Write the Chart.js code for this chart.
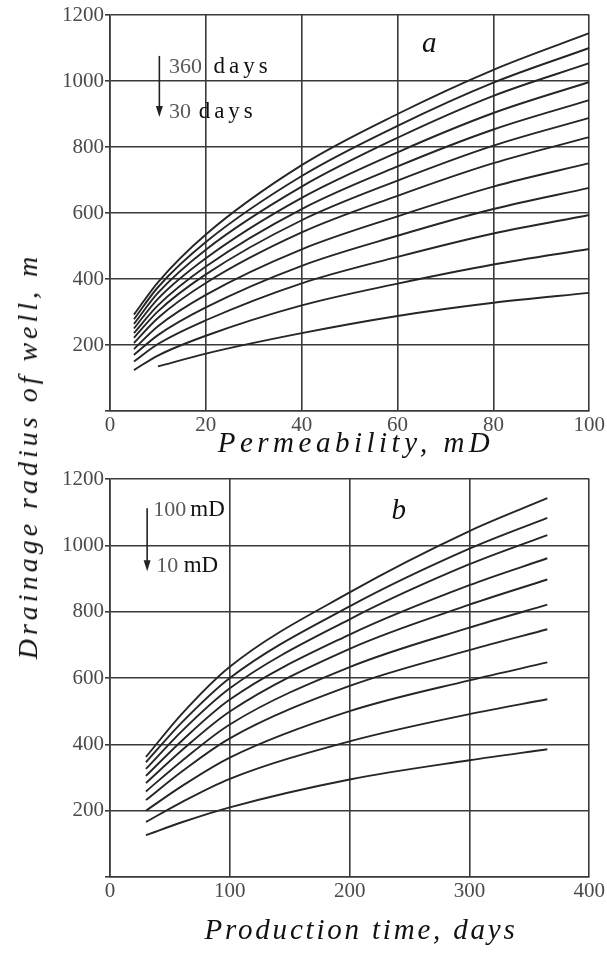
<!DOCTYPE html>
<html>
<head>
<meta charset="utf-8">
<script src="https://cdn.jsdelivr.net/npm/chart.js@4.4.1/dist/chart.umd.min.js"></script>
<style>
  html, body { margin: 0; padding: 0; background: #fff; }
  #wrap { position: relative; width: 607px; height: 953px; overflow: hidden; }
  #chartA { position: absolute; left: 0; top: 0; }
  #chartB { position: absolute; left: 0; top: 460px; }
  #ytitle {
    position: absolute; left: 28px; top: 456px;
    transform: translate(-50%, -50%) rotate(-90deg);
    font: italic 28px "Liberation Serif", serif; letter-spacing: 4px;
    white-space: nowrap; color: #111;
  }
</style>
</head>
<body>
<div id="wrap">
  <canvas id="chartA" width="607" height="460"></canvas>
  <canvas id="chartB" width="607" height="493"></canvas>
  <div id="ytitle">Drainage radius of well, m</div>
</div>
<script>
// Panel a: drainage radius (m) vs permeability (mD), one curve per production time
const permA = [5, 10, 20, 40, 60, 80, 100];
const rad360d = [292, 390, 535, 745, 900, 1034, 1145];
const rad330d = [278, 375, 512, 712, 864, 995, 1100];
const rad300d = [264, 358, 489, 680, 828, 955, 1054];
const rad270d = [250, 340, 463, 646, 784, 903, 997];
const rad240d = [236, 320, 438, 612, 741, 853, 942];
const rad210d = [222, 302, 414, 578, 698, 804, 888];
const rad180d = [206, 282, 388, 541, 652, 751, 830];
const rad150d = [188, 257, 352, 490, 590, 680, 751];
const rad120d = [170, 230, 314, 440, 531, 612, 676];
const rad90d  = [150, 203, 275, 387, 467, 538, 594];
const rad60d  = [124, 168, 228, 320, 386, 444, 491];
const rad30d  = [null, 135, 174, 236, 288, 328, 358];
const curvesA = [rad360d, rad330d, rad300d, rad270d, rad240d, rad210d,
                 rad180d, rad150d, rad120d, rad90d, rad60d, rad30d];

// Panel b: drainage radius (m) vs production time (days), one curve per permeability
const daysB = [30, 60, 100, 200, 300, 365];
const rad100mD = [362, 492, 634, 858, 1043, 1142];
const rad90mD  = [346, 466, 600, 816, 990, 1083];
const rad80mD  = [326, 440, 569, 777, 943, 1031];
const rad70mD  = [305, 411, 535, 731, 880, 961];
const rad60mD  = [283, 382, 499, 688, 821, 897];
const rad50mD  = [258, 350, 460, 633, 752, 821];
const rad40mD  = [232, 318, 418, 576, 684, 747];
const rad30mD  = [200, 274, 360, 500, 593, 647];
const rad20mD  = [166, 226, 296, 409, 491, 536];
const rad10mD  = [126, 165, 210, 294, 352, 385];
const curvesB = [rad100mD, rad90mD, rad80mD, rad70mD, rad60mD,
                 rad50mD, rad40mD, rad30mD, rad20mD, rad10mD];

const yTicks = [0, 200, 400, 600, 800, 1000, 1200];

const LINE = '#262626';
const GRID = '#3a3a3a';
const TICK_FONT = { family: 'Liberation Serif', size: 21 };

function toDatasets(xs, curves) {
  return curves.map(vals => ({
    data: xs.map((x, i) => ({ x: x, y: vals[i] })),
    borderColor: LINE,
    borderWidth: 1.9,
    pointRadius: 0,
    cubicInterpolationMode: 'monotone',
    spanGaps: false,
    fill: false
  }));
}

// annotations: arrow + labels, positioned in data coordinates
const annotate = {
  id: 'annotate',
  afterDraw(chart, args, opts) {
    const { ctx, scales: { x, y } } = chart;
    ctx.save();
    // arrow
    const ax = x.getPixelForValue(opts.arrow.x);
    const ay0 = y.getPixelForValue(opts.arrow.from);
    const ay1 = y.getPixelForValue(opts.arrow.to);
    ctx.strokeStyle = '#222';
    ctx.lineWidth = 1.6;
    ctx.beginPath();
    ctx.moveTo(ax, ay0);
    ctx.lineTo(ax, ay1 - 8);
    ctx.stroke();
    ctx.fillStyle = '#222';
    ctx.beginPath();
    ctx.moveTo(ax - 3.5, ay1 - 11);
    ctx.lineTo(ax + 3.5, ay1 - 11);
    ctx.lineTo(ax, ay1);
    ctx.closePath();
    ctx.fill();
    // labels
    ctx.textBaseline = 'alphabetic';
    ctx.textAlign = 'left';
    opts.labels.forEach(l => {
      ctx.font = l.font;
      ctx.fillStyle = l.color;
      ctx.letterSpacing = l.spacing || '0px';
      ctx.fillText(l.text, x.getPixelForValue(l.x), y.getPixelForValue(l.y));
    });
    // x axis title
    ctx.font = 'italic 29px "Liberation Serif"';
    ctx.fillStyle = '#111';
    ctx.letterSpacing = opts.xTitleSpacing;
    ctx.textAlign = 'center';
    ctx.fillText(opts.xTitle, opts.xTitleX, opts.xTitleY);
    ctx.restore();
  }
};

function makeOptions(xMax, xStep, top, right, xAxisHeight, annot) {
  return {
    responsive: false,
    animation: false,
    devicePixelRatio: 1,
    layout: { padding: { top: top, right: right, left: 0, bottom: 0 } },
    plugins: {
      legend: { display: false },
      tooltip: { enabled: false },
      annotate: annot
    },
    scales: {
      x: {
        type: 'linear', min: 0, max: xMax,
        ticks: { stepSize: xStep, font: TICK_FONT, color: '#4a4a4a', padding: 2, maxRotation: 0 },
        grid: { color: GRID, lineWidth: 1.6, drawTicks: false },
        border: { color: GRID, width: 1.6 },
        afterFit: s => { s.height = xAxisHeight; }
      },
      y: {
        type: 'linear', min: 0, max: 1200,
        afterBuildTicks: s => { s.ticks = yTicks.map(v => ({ value: v })); },
        ticks: { font: TICK_FONT, color: '#4a4a4a', padding: 1,
                 callback: v => (v === 0 ? '' : v) },
        grid: { color: GRID, lineWidth: 1.6, tickLength: 5 },
        border: { color: GRID, width: 1.6 },
        afterFit: s => { s.width = 110; }
      }
    }
  };
}

new Chart(document.getElementById('chartA'), {
  type: 'line',
  data: { datasets: toDatasets(permA, curvesA) },
  options: makeOptions(100, 20, 15, 10, 49, {
    arrow: { x: 10.3, from: 1076, to: 891 },
    xTitle: 'Permeability, mD',
    xTitleX: 356,
    xTitleY: 452,
    xTitleSpacing: '4.5px',
    labels: [
      { text: '360', x: 12.3, y: 1024, font: '22px "Liberation Serif"', color: '#5a5a5a' },
      { text: 'days', x: 21.6, y: 1024, font: '23px "Liberation Serif"', color: '#111', spacing: '4px' },
      { text: '30', x: 12.3, y: 888, font: '22px "Liberation Serif"', color: '#5a5a5a' },
      { text: 'days', x: 18.5, y: 888, font: '23px "Liberation Serif"', color: '#111', spacing: '4px' },
      { text: 'a', x: 65.1, y: 1088, font: 'italic 29px "Liberation Serif"', color: '#111' }
    ]
  }),
  plugins: [annotate]
});

new Chart(document.getElementById('chartB'), {
  type: 'line',
  data: { datasets: toDatasets(daysB, curvesB) },
  options: makeOptions(400, 100, 19, 9, 76, {
    arrow: { x: 31, from: 1112, to: 922 },
    xTitle: 'Production time, days',
    xTitleX: 361,
    xTitleY: 479,
    xTitleSpacing: '2.8px',
    labels: [
      { text: '100', x: 36, y: 1088, font: '22px "Liberation Serif"', color: '#5a5a5a' },
      { text: 'mD', x: 67, y: 1088, font: '23px "Liberation Serif"', color: '#111' },
      { text: '10', x: 38.5, y: 919, font: '22px "Liberation Serif"', color: '#5a5a5a' },
      { text: 'mD', x: 61.5, y: 919, font: '23px "Liberation Serif"', color: '#111' },
      { text: 'b', x: 235, y: 1079, font: 'italic 29px "Liberation Serif"', color: '#111' }
    ]
  }),
  plugins: [annotate]
});
</script>
</body>
</html>
